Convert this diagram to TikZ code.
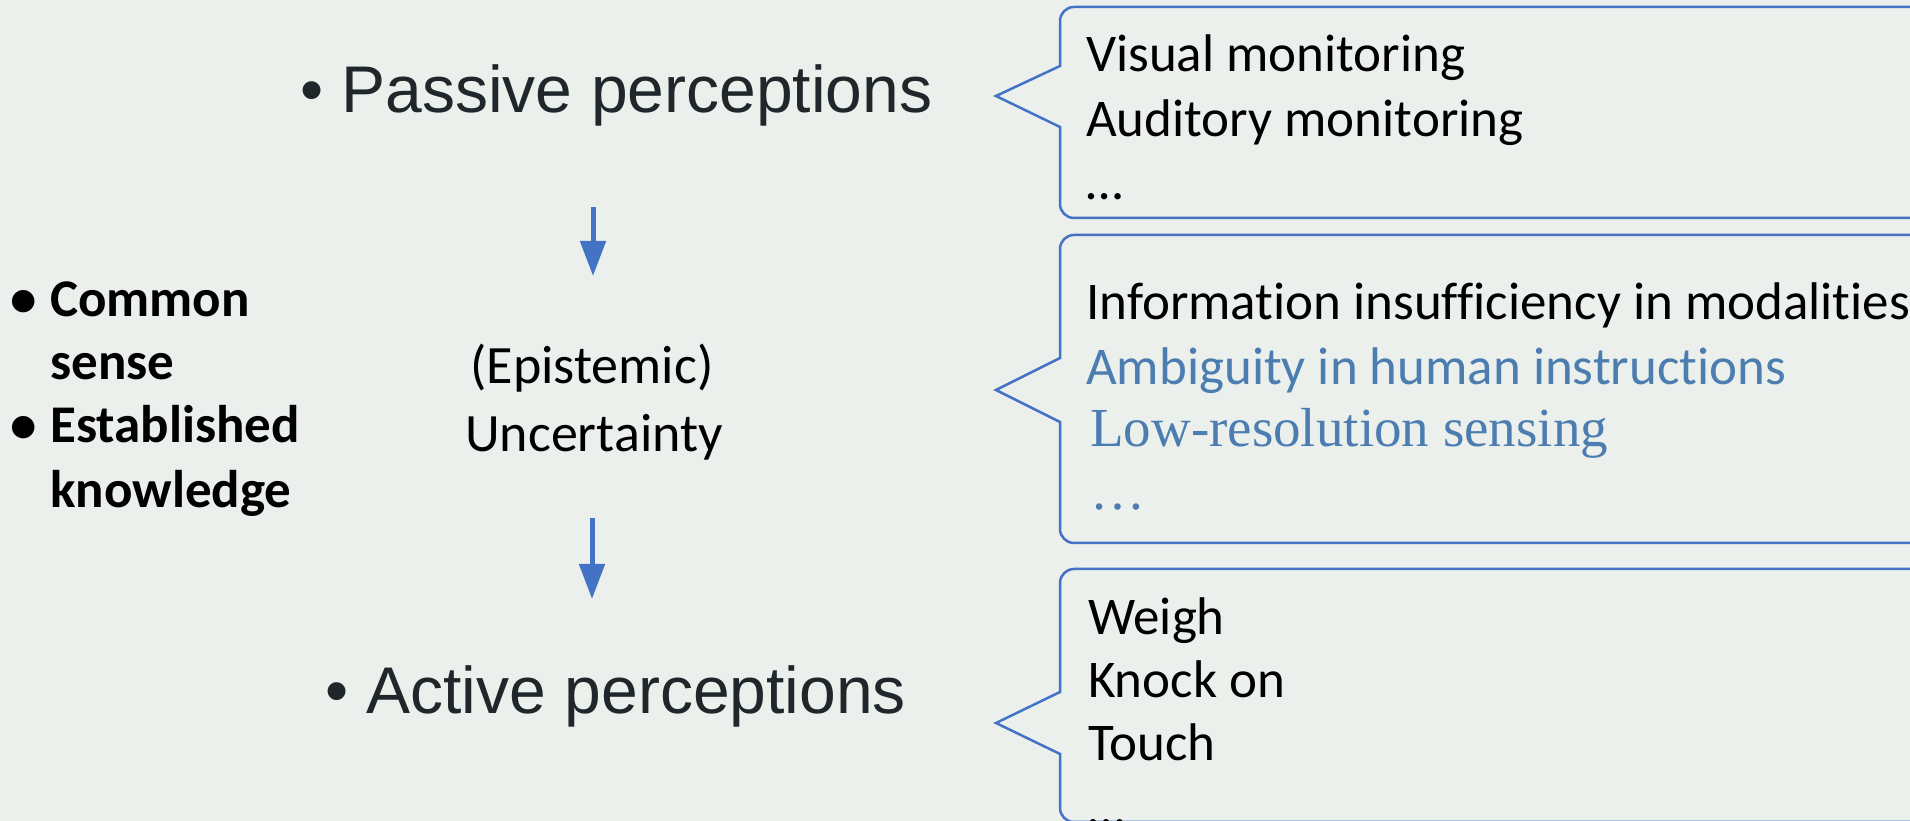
\documentclass[tikz,border=0pt]{standalone}
\usepackage{fontspec}
\setmainfont{Carlito}[Ligatures=NoCommon]
\newfontfamily\headfont{Liberation Sans}
\newfontfamily\serifalt{Liberation Serif}
\usetikzlibrary{arrows.meta}

\definecolor{bgcol}{RGB}{236,240,237}
\definecolor{linecol}{RGB}{68,114,196}
\definecolor{headcol}{RGB}{31,39,43}
\definecolor{softblue}{RGB}{76,125,176}

\tikzset{
  headtxt/.style={anchor=base west, inner sep=0pt, text=headcol,
    font=\headfont\fontsize{66}{79}\selectfont},
  midtxt/.style={anchor=base, inner sep=0pt, text=black,
    font=\fontsize{54}{65}\selectfont},
  sidetxt/.style={anchor=base west, inner sep=0pt, text=black,
    font=\bfseries\fontsize{53}{64}\selectfont},
  itemtxt/.style={anchor=base west, inner sep=0pt, text=black,
    font=\fontsize{53}{64}\selectfont},
  bluetxt/.style={itemtxt, text=softblue},
  serifblue/.style={anchor=base west, inner sep=0pt, text=softblue,
    font=\serifalt\fontsize{55}{66}\selectfont},
  callout/.style={draw=linecol, line width=2.5pt, line join=miter},
  flow/.style={draw=linecol, line width=5pt,
    -{Triangle[width=25pt,length=35pt]}},
}

\begin{document}
\begin{tikzpicture}[x=1pt,y=1pt]
  \useasboundingbox (0,0) rectangle (1910,821);
  \fill[bgcol] (0,0) rectangle (1910,821);

  % main column
  \node[headtxt] (passive) at (300,708) {•\ Passive perceptions};
  \node[midtxt] (epi) at (592,437) {(Epistemic)};
  \node[midtxt] (unc) at (594,369) {Uncertainty};
  \node[headtxt] (active) at (325,107) {•\ Active perceptions};

  % flow arrows
  \coordinate (a1s) at (593,614);
  \coordinate (a1e) at (593,545);
  \coordinate (a2s) at (592,303);
  \coordinate (a2e) at (592,222);
  \draw[flow] (a1s) -- (a1e);
  \draw[flow] (a2s) -- (a2e);

  % prior knowledge list
  \node[sidetxt] (b1) at (10,504) {•};
  \node[sidetxt] (k1) at (50,504) {Common};
  \node[sidetxt] (k2) at (50,441) {sense};
  \node[sidetxt] (b2) at (10,378) {•};
  \node[sidetxt] (k3) at (50,378) {Established};
  \node[sidetxt] (k4) at (50,313) {knowledge};

  % callout boxes
  \draw[callout] (1930,814) -- (1074,814) arc[start angle=90,end angle=180,radius=14]
    -- (1060,755) -- (996,725) -- (1060,694)
    -- (1060,617) arc[start angle=180,end angle=270,radius=14] -- (1930,603);
  \draw[callout] (1930,586) -- (1074,586) arc[start angle=90,end angle=180,radius=14]
    -- (1060,463) -- (996,431) -- (1060,399)
    -- (1060,292) arc[start angle=180,end angle=270,radius=14] -- (1930,278);
  \draw[callout] (1930,252) -- (1074,252) arc[start angle=90,end angle=180,radius=14]
    -- (1060,129) -- (996,98) -- (1060,67)
    -- (1060,13) arc[start angle=180,end angle=270,radius=14] -- (1930,-1);

  % callout contents
  \node[itemtxt] (v1) at (1086,749) {Visual monitoring};
  \node[itemtxt] (v2) at (1086,684) {Auditory monitoring};
  \node[itemtxt] (v3) at (1086,621) {…};

  \node[itemtxt] (u1) at (1086,501) {Information insufficiency in modalities};
  \node[bluetxt] (u2) at (1086,436) {Ambiguity in human instructions};
  \node[serifblue] (u3) at (1090,374) {Low-resolution sensing};
  \node[serifblue] (u4) at (1090,311) {…};

  \node[itemtxt] (w1) at (1088,186) {Weigh};
  \node[itemtxt] (w2) at (1088,123) {Knock on};
  \node[itemtxt] (w3) at (1088,60) {Touch};
  \node[itemtxt] (w4) at (1088,-5) {…};
\end{tikzpicture}
\end{document}
